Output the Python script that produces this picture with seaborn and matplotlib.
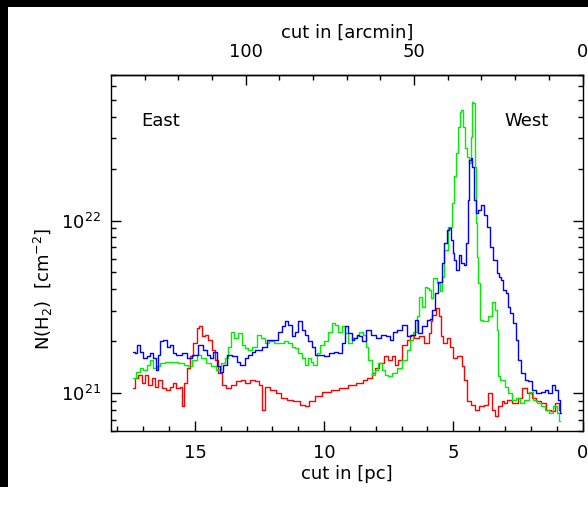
import matplotlib
matplotlib.use("Agg")
import matplotlib.pyplot as plt
from matplotlib.ticker import MultipleLocator, LogLocator, NullFormatter, FixedLocator
from matplotlib.patches import Rectangle
import numpy as np
import pandas as pd
import seaborn as sns

# H2 column density cuts across the cloud (N in units of 1e21 cm^-2)
pc_blue = [17.39, 17.26, 17.20, 17.07, 16.94, 16.81, 16.68, 16.55, 16.48, 16.42,
           16.29, 16.16, 16.04, 15.90, 15.78, 15.65, 15.39, 15.20, 15.00, 14.74,
           14.61, 14.49, 14.36, 14.23, 14.10, 13.97, 13.84, 13.71, 13.45, 13.33,
           13.19, 13.13, 13.00, 12.87, 12.74, 12.61, 12.49, 12.29, 12.10, 11.90,
           11.71, 11.58, 11.45, 11.32, 11.20, 11.06, 10.94, 10.81, 10.68, 10.55,
           10.42, 10.29, 10.10, 9.90, 9.71, 9.52, 9.39, 9.26, 9.16, 9.00,
           8.87, 8.81, 8.68, 8.61, 8.49, 8.29, 8.10, 7.91, 7.71, 7.52,
           7.39, 7.26, 7.07, 6.87, 6.74, 6.55, 6.42, 6.29, 6.10, 5.97,
           5.84, 5.78, 5.64, 5.52, 5.39, 5.32, 5.20, 5.13, 5.06, 5.00,
           4.94, 4.85, 4.74, 4.65, 4.55, 4.48, 4.42, 4.36, 4.29, 4.23,
           4.16, 4.10, 3.97, 3.88, 3.77, 3.65, 3.52, 3.39, 3.26, 3.19,
           3.13, 3.00, 2.93, 2.87, 2.74, 2.61, 2.55, 2.45, 2.29, 2.16,
           2.03, 1.90, 1.71, 1.52, 1.39, 1.26, 1.13, 1.00, 0.90, 0.84]
n_blue = [1.72, 1.70, 1.90, 1.74, 1.60, 1.63, 1.70, 1.60, 1.36, 1.67,
          1.99, 2.03, 1.86, 1.90, 1.70, 1.67, 1.70, 1.60, 1.67, 1.90,
          1.78, 1.67, 1.60, 1.74, 1.43, 1.33, 1.46, 1.67, 1.63, 1.52,
          1.46, 1.46, 1.60, 1.67, 1.74, 1.78, 1.78, 1.86, 2.03, 2.03,
          2.27, 2.43, 2.60, 2.49, 2.13, 2.27, 2.60, 2.33, 2.18, 1.99,
          1.86, 1.67, 1.67, 1.63, 1.70, 1.74, 1.70, 1.95, 2.43, 2.23,
          2.03, 2.08, 2.18, 2.13, 1.99, 2.33, 2.18, 2.08, 2.18, 2.13,
          2.03, 2.27, 2.33, 2.49, 2.13, 2.18, 2.66, 2.23, 2.43, 2.66,
          2.70, 3.04, 3.79, 4.43, 5.66, 7.39, 8.82, 9.03, 7.72, 6.47,
          5.91, 5.18, 6.32, 5.66, 5.53, 7.39, 13.2, 22.4, 23.0, 20.5,
          13.2, 11.0, 11.5, 12.3, 10.8, 9.22, 7.06, 5.91, 4.95, 4.73,
          4.53, 3.96, 3.79, 3.17, 2.90, 2.54, 2.03, 1.56, 1.31, 1.19,
          1.17, 1.045, 1.00, 1.02, 1.045, 1.00, 1.12, 1.045, 0.915, 0.766]

pc_green = [17.39, 17.20, 17.07, 16.94, 16.81, 16.68, 16.55, 16.42, 16.29, 16.04,
            15.78, 15.52, 15.32, 15.20, 15.00, 14.87, 14.68, 14.49, 14.29, 14.10,
            13.91, 13.77, 13.65, 13.56, 13.39, 13.26, 13.13, 13.00, 12.87, 12.68,
            12.49, 12.36, 12.23, 12.03, 11.84, 11.65, 11.45, 11.32, 11.20, 11.06,
            10.94, 10.81, 10.68, 10.55, 10.48, 10.36, 10.23, 10.10, 9.90, 9.78,
            9.65, 9.52, 9.39, 9.26, 9.13, 9.00, 8.81, 8.68, 8.61, 8.42,
            8.35, 8.23, 8.10, 7.97, 7.84, 7.71, 7.58, 7.45, 7.26, 7.07,
            6.87, 6.74, 6.61, 6.48, 6.36, 6.29, 6.16, 6.03, 5.99, 5.90,
            5.84, 5.71, 5.58, 5.48, 5.39, 5.30, 5.13, 5.00, 4.91, 4.85,
            4.78, 4.74, 4.65, 4.58, 4.52, 4.42, 4.36, 4.29, 4.25, 4.19,
            4.16, 4.12, 4.06, 4.01, 3.93, 3.77, 3.58, 3.45, 3.36, 3.28,
            3.23, 3.13, 3.07, 2.93, 2.81, 2.68, 2.49, 2.35, 2.16, 1.97,
            1.84, 1.71, 1.52, 1.39, 1.19, 1.06, 0.94, 0.87]
n_green = [1.22, 1.33, 1.40, 1.36, 1.46, 1.56, 1.40, 1.43, 1.49, 1.52,
           1.52, 1.49, 1.46, 1.43, 1.56, 1.67, 1.60, 1.49, 1.43, 1.36,
           1.49, 1.60, 1.86, 2.27, 2.08, 2.23, 1.90, 1.82, 1.78, 1.86,
           2.18, 2.08, 1.95, 1.99, 1.95, 1.95, 1.99, 1.95, 1.86, 1.82,
           1.70, 1.60, 1.46, 1.60, 1.52, 1.46, 1.70, 1.90, 1.99, 2.27,
           2.54, 2.49, 2.27, 2.43, 2.23, 1.95, 2.08, 2.18, 2.27, 2.18,
           1.86, 1.56, 1.28, 1.36, 1.49, 1.36, 1.28, 1.25, 1.31, 1.40,
           1.56, 1.78, 2.03, 2.27, 2.78, 3.62, 3.17, 4.14, 4.06, 3.96,
           3.55, 4.63, 4.33, 3.88, 4.73, 6.76, 9.22, 12.6, 18.0, 24.5,
           35.0, 42.7, 43.7, 35.0, 26.2, 23.4, 21.5, 30.6, 48.8, 47.8,
           20.5, 9.65, 6.18, 4.34, 2.66, 2.60, 2.78, 3.39, 3.04, 2.33,
           1.25, 1.19, 1.19, 1.09, 1.00, 0.915, 0.936, 0.875, 0.915, 1.02,
           0.915, 0.875, 0.836, 0.80, 0.766, 0.836, 0.766, 0.684]

pc_red = [17.39, 17.26, 17.13, 17.00, 16.87, 16.74, 16.62, 16.48, 16.36, 16.23,
          16.04, 15.90, 15.78, 15.65, 15.52, 15.45, 15.39, 15.26, 15.13, 15.00,
          14.87, 14.81, 14.68, 14.55, 14.42, 14.29, 14.16, 14.03, 13.91, 13.71,
          13.52, 13.33, 13.13, 13.00, 12.74, 12.61, 12.42, 12.36, 12.23, 11.97,
          11.78, 11.58, 11.32, 11.06, 10.81, 10.68, 10.48, 10.23, 9.90, 9.58,
          9.26, 8.87, 8.68, 8.61, 8.42, 8.23, 8.10, 7.97, 7.77, 7.58,
          7.45, 7.32, 7.19, 7.07, 6.87, 6.74, 6.61, 6.42, 6.23, 6.03,
          5.97, 5.90, 5.84, 5.78, 5.71, 5.61, 5.52, 5.45, 5.32, 5.20,
          5.06, 4.94, 4.74, 4.61, 4.55, 4.42, 4.23, 4.10, 3.90, 3.71,
          3.58, 3.45, 3.32, 3.19, 3.07, 3.00, 2.81, 2.61, 2.42, 2.23,
          2.03, 1.90, 1.71, 1.52, 1.32, 1.13, 0.98, 0.87]
n_red = [1.07, 1.22, 1.28, 1.14, 1.28, 1.12, 1.22, 1.09, 1.19, 1.07,
         1.045, 1.09, 1.14, 1.07, 1.09, 0.836, 1.14, 1.40, 1.63, 1.95,
         2.38, 2.43, 2.13, 2.18, 2.03, 1.78, 1.56, 1.31, 1.12, 1.07,
         1.12, 1.17, 1.19, 1.14, 1.19, 1.17, 1.12, 0.80, 1.09, 1.045,
         1.00, 0.936, 0.915, 0.894, 0.856, 0.836, 0.894, 0.956, 1.02, 1.045,
         1.07, 1.12, 1.14, 1.14, 1.19, 1.22, 1.31, 1.40, 1.49, 1.63,
         1.56, 1.63, 1.46, 1.56, 1.90, 2.03, 2.18, 2.08, 2.13, 1.95,
         1.95, 2.23, 2.60, 2.84, 2.84, 3.11, 2.78, 2.13, 1.95, 2.08,
         1.86, 1.60, 1.63, 1.43, 1.19, 0.894, 0.856, 0.80, 0.836, 0.856,
         1.00, 0.80, 0.732, 0.836, 0.894, 0.875, 0.915, 0.875, 0.936, 1.07,
         1.00, 0.936, 0.894, 0.875, 0.80, 0.782, 0.875, 0.80]

x_ticks_pc = [0, 5, 10, 15]
x_ticks_arcmin = [0, 50, 100]
ARCMIN_PER_PC = 7.67

sns.set_style("ticks")
plt.rcParams["font.family"] = ["DejaVu Sans"]
plt.rcParams["mathtext.fontset"] = "dejavusans"
plt.rcParams["text.color"] = "black"
plt.rcParams["axes.labelcolor"] = "black"
plt.rcParams["xtick.color"] = "black"
plt.rcParams["ytick.color"] = "black"
plt.rcParams["axes.edgecolor"] = "black"

W, H = 588, 508
fig = plt.figure(figsize=(W / 100, H / 100), dpi=100)
fig.patch.set_facecolor("white")

# black frame strips along the top and left edges
fig.patches.append(Rectangle((0, 1 - 7 / H), 1, 7 / H, transform=fig.transFigure,
                             facecolor="black", edgecolor="none", zorder=0))
fig.patches.append(Rectangle((0, 1 - 487 / H), 8 / W, 487 / H, transform=fig.transFigure,
                             facecolor="black", edgecolor="none", zorder=0))

ax = fig.add_axes([111 / W, 1 - 431.3 / H, (582.5 - 111) / W, (431.3 - 74.7) / H])
ax.set_facecolor("white")

series = [("red", pc_red, n_red), ("#00ee00", pc_green, n_green), ("blue", pc_blue, n_blue)]
for color, pcs, ns in series:
    df = pd.DataFrame({"pc": pcs, "N": np.array(ns) * 1e21})
    sns.lineplot(data=df, x="pc", y="N", ax=ax, color=color, linewidth=1.0,
                 sort=False, estimator=None, drawstyle="steps-mid")

ax.set_yscale("log")
ax.set_xlim(18.25, 0)
ax.set_ylim(6e20, 7e22)

ax.xaxis.set_major_locator(FixedLocator(x_ticks_pc))
ax.xaxis.set_minor_locator(MultipleLocator(1))
ax.set_xticklabels([str(v) for v in x_ticks_pc])
ax.yaxis.set_major_locator(LogLocator(base=10))
ax.yaxis.set_minor_locator(LogLocator(base=10, subs=np.arange(2, 10)))
ax.yaxis.set_minor_formatter(NullFormatter())

for s in ax.spines.values():
    s.set_linewidth(1.0)
    s.set_color("black")

ax.tick_params(which="both", direction="in", top=False, right=True,
               colors="black", labelcolor="black", labelsize=13, width=1.0)
ax.tick_params(which="major", length=7)
ax.tick_params(which="minor", length=3.5)
ax.tick_params(axis="x", which="major", pad=9)
ax.tick_params(axis="y", which="major", pad=7)

ax.set_xlabel("cut in [pc]", fontsize=13, labelpad=2, color="black")
ax.set_ylabel("")
fig.text(43 / W, 1 - 289 / H, r"N(H$_2$)  [cm$^{-2}$]", rotation=90,
         ha="center", va="center", fontsize=13, color="black")

sec = ax.secondary_xaxis("top", functions=(lambda p: p * ARCMIN_PER_PC,
                                            lambda a: a / ARCMIN_PER_PC))
sec.xaxis.set_major_locator(FixedLocator(x_ticks_arcmin))
sec.xaxis.set_minor_locator(MultipleLocator(10))
sec.set_xticklabels([str(v) for v in x_ticks_arcmin])
sec.tick_params(which="both", direction="in", labelsize=13, width=1.0,
                colors="black", labelcolor="black")
sec.tick_params(which="major", length=7, pad=10)
sec.tick_params(which="minor", length=3.5)
sec.spines["top"].set_linewidth(1.0)
sec.set_xlabel("cut in [arcmin]", fontsize=13, labelpad=4, color="black")

ax.text(0.106, 0.87, "East", transform=ax.transAxes, fontsize=13,
        ha="center", va="center", color="black")
ax.text(0.882, 0.87, "West", transform=ax.transAxes, fontsize=13,
        ha="center", va="center", color="black")

fig.savefig("out.png", dpi=100)
